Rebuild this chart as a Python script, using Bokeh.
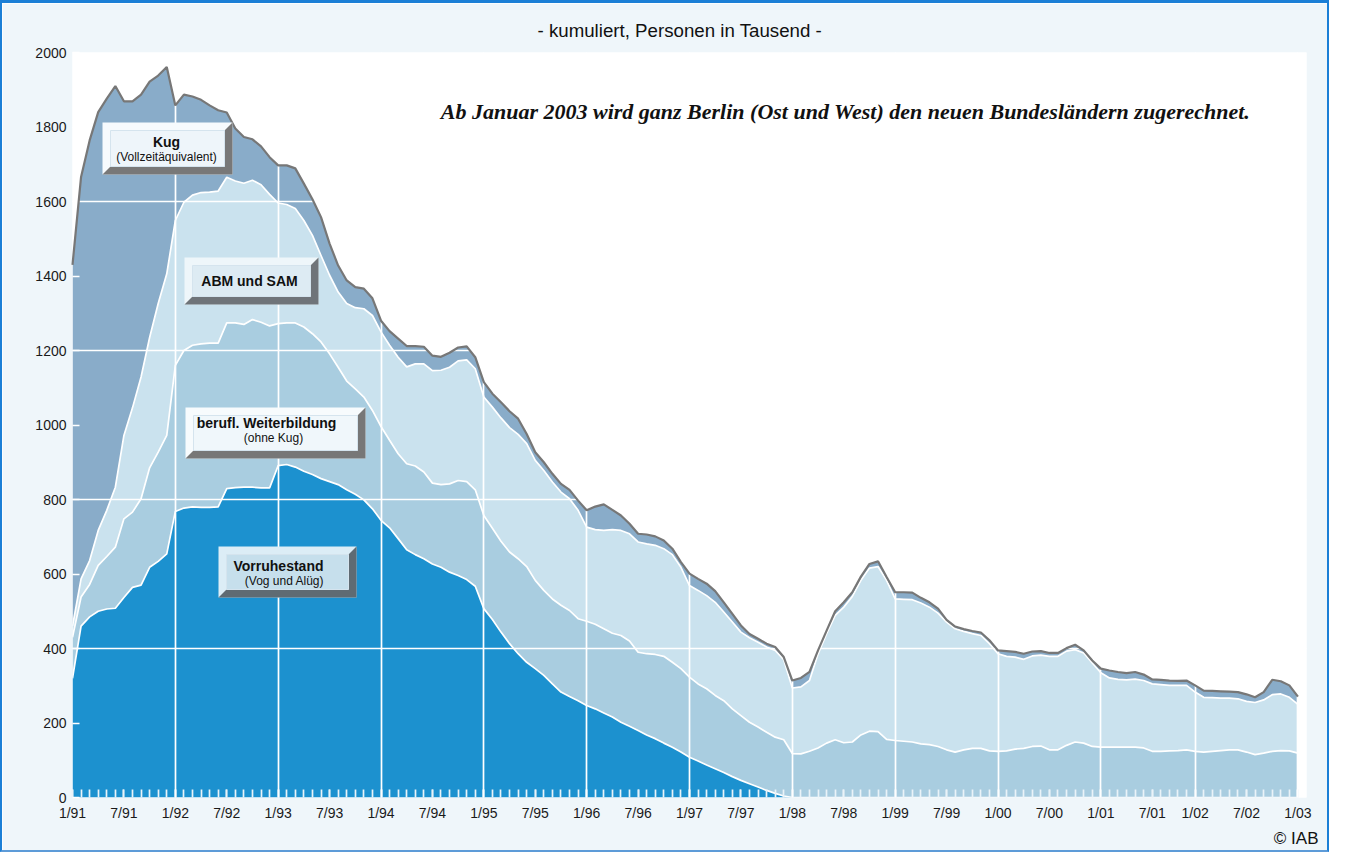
from bokeh.plotting import figure
from bokeh.models import ColumnDataSource, Range1d, FixedTicker, Label, Title
from bokeh.core.properties import value
from bokeh.transform import stack
from bokeh.embed import file_html
from bokeh.resources import INLINE

# ---- data (thousand persons, monthly, 1/91 .. 1/03) ----
vorruhestand = [320, 460, 485, 500, 506, 508, 537, 564, 570, 618, 634, 654,
                768, 777, 780, 779, 779, 780, 829, 832, 833, 833, 831, 831,
                891, 894, 887, 876, 867, 856, 848, 840, 826, 814, 799, 775,
                744, 724, 695, 665, 652, 641, 627, 618, 605, 596, 585, 567,
                507, 478, 444, 413, 386, 363, 346, 328, 305, 283, 271, 260,
                247, 238, 227, 216, 202, 191, 180, 168, 158, 146, 135, 122,
                108, 98, 87, 77, 67, 56, 46, 37, 28, 19, 11, 4,
                0, 0, 0, 0, 0, 0, 0, 0, 0, 0, 0, 0,
                0, 0, 0, 0, 0, 0, 0, 0, 0, 0, 0, 0,
                0, 0, 0, 0, 0, 0, 0, 0, 0, 0, 0, 0,
                0, 0, 0, 0, 0, 0, 0, 0, 0, 0, 0, 0,
                0, 0, 0, 0, 0, 0, 0, 0, 0, 0, 0, 0]
weiterbildung = [110, 78, 87, 123, 141, 164, 211, 202, 232, 267, 293, 318,
                 392, 423, 434, 439, 441, 440, 445, 442, 437, 450, 445, 435,
                 381, 380, 387, 387, 378, 367, 343, 315, 292, 283, 276, 264,
                 252, 235, 228, 231, 238, 233, 217, 222, 237, 255, 263, 259,
                 250, 245, 244, 246, 255, 257, 237, 228, 228, 233, 231, 220,
                 226, 227, 226, 225, 233, 229, 210, 218, 226, 233, 228, 224,
                 215, 207, 205, 197, 193, 182, 174, 165, 161, 156, 151, 151,
                 118, 117, 124, 133, 146, 155, 147, 149, 168, 178, 177, 156,
                 153, 151, 149, 144, 142, 137, 128, 122, 128, 132, 132, 125,
                 124, 125, 130, 132, 137, 138, 128, 128, 140, 149, 146, 137,
                 135, 135, 135, 135, 135, 133, 124, 124, 125, 126, 128, 124,
                 122, 124, 126, 128, 128, 122, 115, 119, 124, 126, 125, 119]
abm_sam = [30, 49, 64, 94, 124, 161, 224, 280, 327, 350, 399, 434,
           389, 398, 403, 406, 405, 408, 391, 381, 379, 374, 369, 353,
           324, 318, 307, 286, 264, 232, 211, 202, 208, 218, 237, 255,
           254, 255, 259, 260, 274, 290, 302, 307, 313, 321, 327, 325,
           318, 325, 331, 334, 334, 330, 322, 322, 314, 304, 300, 291,
           253, 254, 264, 278, 282, 288, 296, 295, 293, 289, 289, 272,
           246, 251, 250, 250, 238, 233, 224, 227, 228, 229, 233, 215,
           176, 180, 190, 252, 294, 334, 364, 391, 415, 438, 443, 427,
           380, 381, 382, 378, 369, 358, 343, 331, 318, 308, 303, 288,
           262, 254, 247, 239, 243, 244, 251, 251, 253, 248, 242, 224,
           200, 186, 182, 181, 183, 181, 181, 179, 176, 175, 173, 159,
           147, 144, 141, 139, 137, 136, 140, 143, 152, 152, 144, 131]
kug = [970, 1079, 1128, 1123, 1105, 1077, 897, 823, 758, 687, 612, 555,
       309, 289, 265, 249, 233, 217, 174, 141, 124, 110, 103, 100,
       101, 105, 108, 99, 97, 103, 85, 71, 62, 55, 54, 46,
       30, 38, 50, 56, 48, 46, 40, 36, 39, 36, 36, 31,
       40, 36, 42, 44, 42, 26, 22, 22, 22, 22, 24, 26,
       45, 62, 70, 53, 40, 27, 22, 25, 24, 22, 16, 14,
       32, 31, 32, 30, 26, 22, 18, 10, 9, 9, 9, 7,
       20, 24, 23, 10, 8, 11, 13, 11, 10, 11, 14, 9,
       18, 19, 19, 14, 13, 12, 6, 6, 6, 7, 8, 9,
       9, 14, 14, 15, 12, 11, 9, 9, 8, 13, 7, 7,
       11, 20, 20, 18, 19, 16, 12, 13, 13, 12, 13, 18,
       18, 18, 18, 17, 18, 19, 14, 21, 40, 34, 32, 21]

tick_labels = ["1/91", "7/91", "1/92", "7/92", "1/93", "7/93", "1/94", "7/94",
               "1/95", "7/95", "1/96", "7/96", "1/97", "7/97", "1/98", "7/98",
               "1/99", "7/99", "1/00", "7/00", "1/01", "7/01", "1/02", "7/02",
               "1/03"]
tick_index = [0, 6, 12, 18, 24, 30, 36, 42, 48, 54, 60, 66, 72, 78, 84, 90,
              96, 102, 108, 114, 120, 126, 131, 137, 143]
y_ticks = [0, 200, 400, 600, 800, 1000, 1200, 1400, 1600, 1800, 2000]
y_grid = [400, 800, 1200, 1600]

# ---- colours ----
C_VOR = "#1C91CF"
C_WB = "#A9CDE0"
C_ABM = "#CAE2EE"
C_KUG = "#89ACC9"
C_TOP = "#777777"
C_BG = "#EFF6FA"

x = list(range(len(vorruhestand)))
src = ColumnDataSource(dict(x=x, v=vorruhestand, w=weiterbildung, a=abm_sam, k=kug))

# frame position on page (px)
FL, FT, FW, FH = 72, 52, 1234, 745
XMAX, YMAX = 144, 2000


def dx(px):
    return (px - FL) / FW * XMAX


def dy(py):
    return (FT + FH - py) / FH * YMAX


BL, BT, BR, BB = 2, 3, 2, 2       # css border widths
TOTAL_W, TOTAL_H = 1329, 850
p = figure(frame_width=FW, frame_height=FH,
           x_range=Range1d(0, XMAX), y_range=Range1d(0, YMAX),
           output_backend="svg", toolbar_location=None,
           min_border_left=FL - BL, min_border_top=FT - BT,
           min_border_right=TOTAL_W - BL - BR - (FL - BL) - FW,
           min_border_bottom=TOTAL_H - BT - BB - (FT - BT) - FH,
           background_fill_color="white", border_fill_color=C_BG,
           outline_line_color=None)
p.styles = {"border-top": "3px solid #1B7FD6", "border-left": "2px solid #1B7FD6",
            "border-right": "2px solid #1B7FD6", "border-bottom": "2px solid #5D9BD8"}

p.title = Title(text="- kumuliert, Personen in Tausend -", align="left", offset=465,
                text_font="Liberation Sans", text_font_size="18.7px",
                text_font_style="normal", text_color="#111111", standoff=23)

# stacked areas
p.varea_stack(["v", "w", "a", "k"], x="x", color=[C_VOR, C_WB, C_ABM, C_KUG], source=src)
# white separators
for cols in (["v"], ["v", "w"], ["v", "w", "a"]):
    p.line(x="x", y=stack(*cols), line_color="white", line_width=1.7, source=src)

# grid
p.xgrid.ticker = FixedTicker(ticks=[i for i, l in zip(tick_index, tick_labels) if l.startswith("1/")])
p.ygrid.ticker = FixedTicker(ticks=y_grid)
p.grid.grid_line_color = "white"
p.grid.grid_line_width = 1.7
p.grid.level = "annotation"

# top outline above grid
p.line(x="x", y=stack("v", "w", "a", "k"), line_color=C_TOP, line_width=2.2,
       source=src, level="overlay")

# axes
p.yaxis.ticker = FixedTicker(ticks=y_ticks)
p.yaxis.major_tick_in = 7
p.yaxis.major_tick_out = 0
p.yaxis.major_tick_line_color = "white"
p.yaxis.major_tick_line_width = 1.7
p.yaxis.minor_tick_line_color = None
p.yaxis.axis_line_color = None
p.yaxis.major_label_standoff = 6

p.xaxis.ticker = FixedTicker(ticks=tick_index, minor_ticks=x)
p.xaxis.major_label_overrides = {i: l for i, l in zip(tick_index, tick_labels)}
p.xaxis.major_tick_in = 8
p.xaxis.major_tick_out = 0
p.xaxis.minor_tick_in = 8
p.xaxis.minor_tick_out = 0
p.xaxis.major_tick_line_color = "#EAF3F8"
p.xaxis.minor_tick_line_color = "#EAF3F8"
p.xaxis.major_tick_line_width = 1.7
p.xaxis.minor_tick_line_width = 1.7
p.xaxis.axis_line_color = None
p.xaxis.major_label_standoff = 7

for ax in (p.xaxis, p.yaxis):
    ax.major_label_text_font = "Liberation Sans"
    ax.major_label_text_font_size = "14px"
    ax.major_label_text_color = "#1a1a1a"

p.add_layout(Title(text="© IAB", align="right", offset=-12, standoff=6,
                   text_font="Liberation Sans", text_font_size="17px",
                   text_font_style="normal", text_color="#111111"), "below")


# bevelled label boxes
def box(x0, y0, x1, y1, light, face, dark, b=8):
    p.patch([dx(x0), dx(x1), dx(x1), dx(x0)], [dy(y0), dy(y0), dy(y1), dy(y1)],
            fill_color=light, line_color=None, level="overlay")
    p.patch([dx(x1), dx(x1), dx(x0), dx(x0 + b), dx(x1 - b), dx(x1 - b)],
            [dy(y0), dy(y1), dy(y1), dy(y1 - b), dy(y1 - b), dy(y0 + b)],
            fill_color=dark, line_color=None, level="overlay")
    p.patch([dx(x0 + b), dx(x1 - b), dx(x1 - b), dx(x0 + b)],
            [dy(y0 + b), dy(y0 + b), dy(y1 - b), dy(y1 - b)],
            fill_color=face, line_color="#D5E4EE", line_width=1, level="overlay")


box(102, 122, 232, 174, "#F6FAFD", "#EEF5FA", "#787878")
box(184, 257, 318, 304, "#EEF6FA", "#DDEBF3", "#6F7479")
box(185, 407, 365, 458, "#F7FBFD", "#F0F7FB", "#777777")
box(218, 546, 356, 597, "#DCEDF6", "#C6DFEC", "#5F6B73")


def txt(s, px, py, size, style):
    p.text(x=[dx(px)], y=[dy(py)], text=[s], text_font=value("Liberation Sans"),
           text_font_size=size, text_font_style=style, text_color="#111111",
           text_align="center", text_baseline="middle", level="overlay")


txt("Kug", 166, 141, "14px", "bold")
txt("(Vollzeitäquivalent)", 166, 156, "12px", "normal")
txt("ABM und SAM", 249, 280, "14px", "bold")
txt("berufl. Weiterbildung", 266, 422, "14px", "bold")
txt("(ohne Kug)", 273, 437, "12px", "normal")
txt("Vorruhestand", 278, 565, "14px", "bold")
txt("(Vog und Alüg)", 284, 580, "12px", "normal")

p.add_layout(Label(x=dx(845), y=dy(111),
                   text="Ab Januar 2003 wird ganz Berlin (Ost und West) den neuen Bundesländern zugerechnet.",
                   text_font="Liberation Serif", text_font_style="bold italic", text_font_size="22px",
                   text_color="#111111", text_align="center", text_baseline="middle"))

open("out.html", "w").write(file_html(p, INLINE))
